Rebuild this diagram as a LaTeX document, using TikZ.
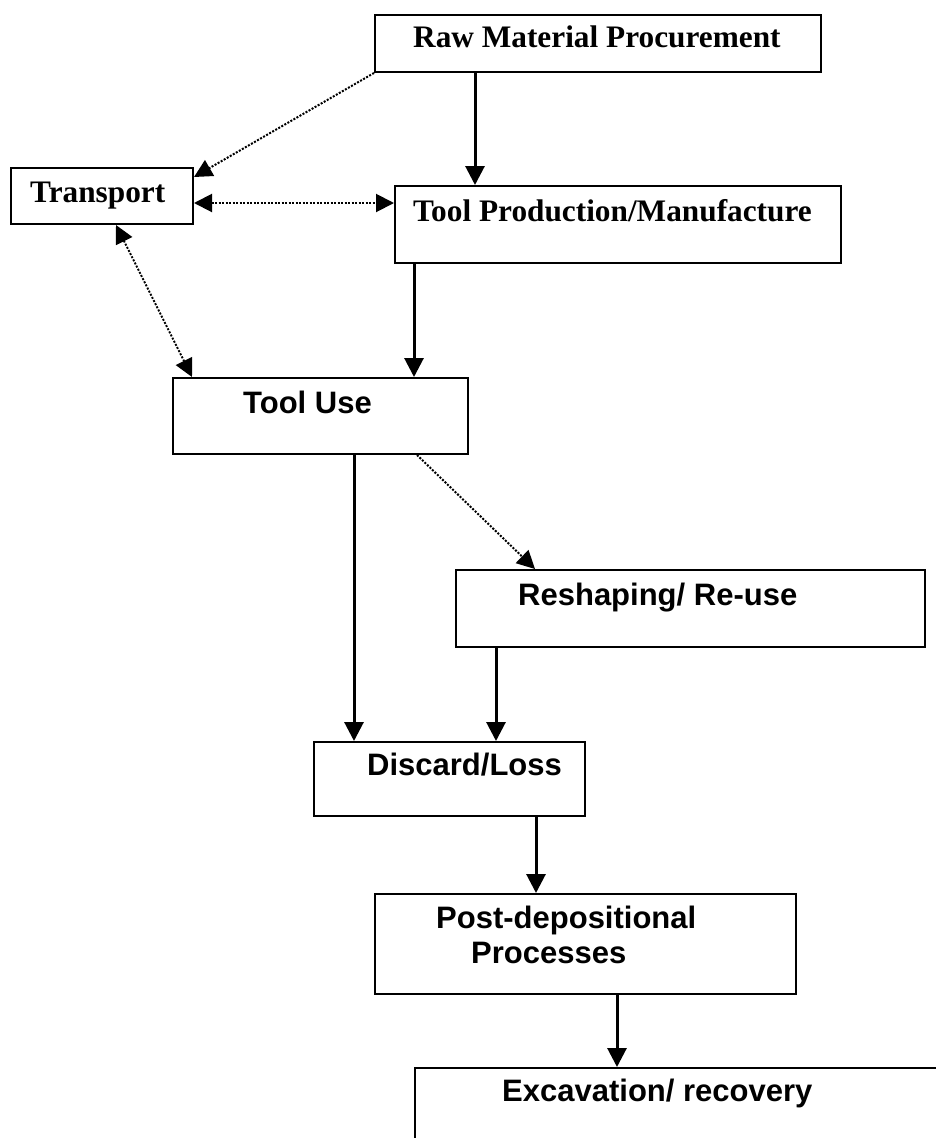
\documentclass[tikz,border=0pt]{standalone}
\usepackage{fontspec}
\setmainfont{Liberation Serif}
\setsansfont{Liberation Sans}
\usetikzlibrary{arrows.meta}

\begin{document}
\begin{tikzpicture}[x=1pt, y=-1pt,
    stage/.style={draw, line width=2pt, rectangle, anchor=north west, inner sep=0pt},
    serif/.style={anchor=base west, inner sep=0pt, font=\fontsize{31.3}{37}\selectfont\bfseries},
    sans/.style={anchor=base west, inner sep=0pt, font=\fontsize{31}{37}\selectfont\sffamily\bfseries},
    flow/.style={line width=3pt, -{Triangle[length=19pt,width=19pt]}},
    link/.style={line width=2pt, dash pattern=on 2pt off 1.5pt, -{Triangle[length=18pt,width=18pt]}},
    twoway/.style={line width=2pt, dash pattern=on 2pt off 1.5pt, {Triangle[length=18pt,width=18pt]}-{Triangle[length=18pt,width=18pt]}}]
    \useasboundingbox (0,0) rectangle (936,1138);
    % boxes
    \node[stage, minimum width=446pt, minimum height=57pt] (raw) at (374,14) {};
    \node[stage, minimum width=182pt, minimum height=56pt] (trans) at (10,167) {};
    \node[stage, minimum width=446pt, minimum height=77pt] (prod) at (394,185) {};
    \node[stage, minimum width=295pt, minimum height=76pt] (use) at (172,377) {};
    \node[stage, minimum width=469pt, minimum height=77pt] (reshape) at (455,569) {};
    \node[stage, minimum width=271pt, minimum height=74pt] (discard) at (313,741) {};
    \node[stage, minimum width=421pt, minimum height=100pt] (postdep) at (374,893) {};
    \node[stage, minimum width=540pt, minimum height=100pt] (excav) at (414,1067) {};
    % labels
    \node[serif] (rawtxt) at (413,47) {Raw Material Procurement};
    \node[serif] (transtxt) at (30,202) {Transport};
    \node[serif] (prodtxt) at (413,221) {Tool Production/Manufacture};
    \node[sans] (usetxt) at (243,413) {Tool Use};
    \node[sans] (reshapetxt) at (518,605) {Reshaping/ Re-use};
    \node[sans] (discardtxt) at (367,775) {Discard/Loss};
    \node[sans] (posttxta) at (436,928) {Post-depositional};
    \node[sans] (posttxtb) at (471,963) {Processes};
    \node[sans] (excavtxt) at (502,1101) {Excavation/ recovery};
    % arrows
    \coordinate (xa) at (475,0);
    \coordinate (xb) at (414,0);
    \coordinate (xc) at (354,0);
    \coordinate (xd) at (496,0);
    \coordinate (xe) at (536,0);
    \coordinate (xf) at (617,0);
    \coordinate (ya) at (0,203);
    \draw[flow] (raw.south -| xa) -- (prod.north -| xa);
    \draw[flow] (prod.south -| xb) -- (use.north -| xb);
    \draw[flow] (use.south -| xc) -- (discard.north -| xc);
    \draw[flow] (reshape.south -| xd) -- (discard.north -| xd);
    \draw[flow] (discard.south -| xe) -- (postdep.north -| xe);
    \draw[flow] (postdep.south -| xf) -- (excav.north -| xf);
    \draw[link] (raw.south west) -- ([yshift=-10pt]trans.north east);
    \draw[twoway] (trans.east |- ya) -- (prod.west |- ya);
    \draw[twoway] ([xshift=14pt]trans.south) -- ([xshift=20pt]use.north west);
    \draw[link] ([xshift=-52pt]use.south east) -- ([xshift=80pt]reshape.north west);
\end{tikzpicture}
\end{document}
